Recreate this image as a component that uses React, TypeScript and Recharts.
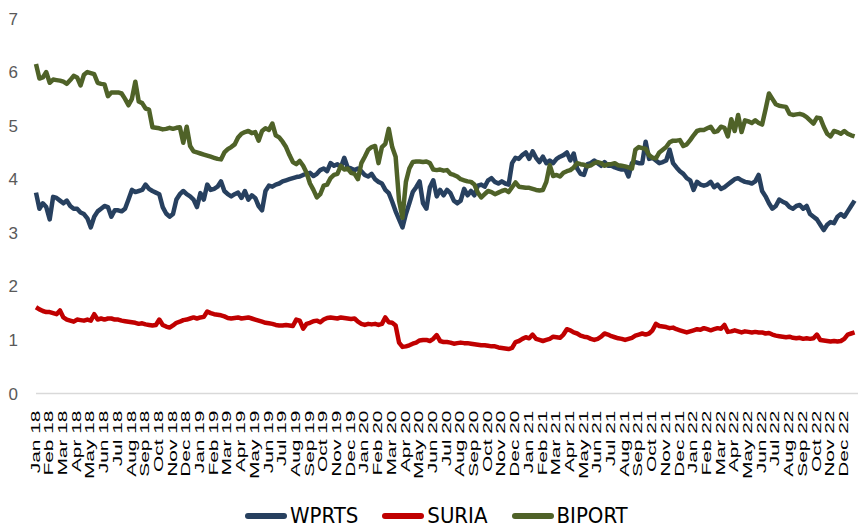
import { LineChart, Line, XAxis, YAxis, Legend } from 'recharts';

// monthly tick labels, Jan 18 .. Dec 22
const MONTH_LABELS = [
  'Jan 18', 'Feb 18', 'Mar 18', 'Apr 18', 'May 18', 'Jun 18', 'Jul 18', 'Aug 18', 'Sep 18', 'Oct 18', 'Nov 18', 'Dec 18',
  'Jan 19', 'Feb 19', 'Mar 19', 'Apr 19', 'May 19', 'Jun 19', 'Jul 19', 'Aug 19', 'Sep 19', 'Oct 19', 'Nov 19', 'Dec 19',
  'Jan 20', 'Feb 20', 'Mar 20', 'Apr 20', 'May 20', 'Jun 20', 'Jul 20', 'Aug 20', 'Sep 20', 'Oct 20', 'Nov 20', 'Dec 20',
  'Jan 21', 'Feb 21', 'Mar 21', 'Apr 21', 'May 21', 'Jun 21', 'Jul 21', 'Aug 21', 'Sep 21', 'Oct 21', 'Nov 21', 'Dec 21',
  'Jan 22', 'Feb 22', 'Mar 22', 'Apr 22', 'May 22', 'Jun 22', 'Jul 22', 'Aug 22', 'Sep 22', 'Oct 22', 'Nov 22', 'Dec 22',
];

const Y_TICKS = [0, 1, 2, 3, 4, 5, 6, 7];

// weekly closes, 4 per month
const WPRTS = [
  3.75, 3.45, 3.55, 3.48, 3.25, 3.67, 3.65, 3.6, 3.55, 3.6, 3.5, 3.45,
  3.45, 3.38, 3.35, 3.27, 3.1, 3.3, 3.4, 3.45, 3.5, 3.48, 3.3, 3.42,
  3.42, 3.4, 3.45, 3.62, 3.8, 3.76, 3.78, 3.8, 3.9, 3.82, 3.78, 3.75,
  3.72, 3.48, 3.36, 3.3, 3.35, 3.62, 3.72, 3.78, 3.72, 3.68, 3.62, 3.48,
  3.74, 3.62, 3.9, 3.8, 3.82, 3.86, 3.96, 3.78, 3.72, 3.68, 3.72, 3.75,
  3.65, 3.78, 3.62, 3.7, 3.65, 3.5, 3.42, 3.78, 3.88, 3.86, 3.9, 3.92,
  3.96, 3.98, 4.0, 4.02, 4.04, 4.05, 4.08, 4.1, 4.12, 4.06, 4.1, 4.17,
  4.2, 4.15, 4.3, 4.25, 4.28, 4.22, 4.4, 4.22, 4.2, 4.17, 4.2, 4.15,
  4.08, 4.05, 4.1, 4.0, 3.95, 3.92, 3.8, 3.74, 3.58, 3.4, 3.25, 3.1,
  3.35, 3.55, 3.76, 3.85, 3.96, 3.55, 3.45, 3.85, 3.98, 3.68, 3.8, 3.7,
  3.8, 3.74, 3.6, 3.55, 3.6, 3.82, 3.7, 3.78, 3.7, 3.88, 3.9, 3.86,
  3.98, 4.02, 3.95, 3.92, 3.96, 3.92, 3.9, 4.3, 4.4, 4.38, 4.45, 4.5,
  4.38, 4.52, 4.4, 4.32, 4.42, 4.3, 4.35, 4.3, 4.38, 4.42, 4.45, 4.5,
  4.35, 4.48, 4.2, 4.1, 4.08, 4.28, 4.3, 4.35, 4.3, 4.25, 4.32, 4.25,
  4.25, 4.22, 4.2, 4.18, 4.2, 4.05, 4.3, 4.32, 4.3, 4.3, 4.7, 4.38,
  4.4, 4.35, 4.3, 4.32, 4.35, 4.55, 4.3, 4.22, 4.15, 4.1, 4.02, 3.98,
  3.8, 3.95, 3.9, 3.88, 3.9, 3.95, 3.85, 3.9, 3.82, 3.85, 3.9, 3.95,
  4.0, 4.02, 3.98, 3.95, 3.94, 3.92, 3.96, 4.08, 3.78, 3.68, 3.55, 3.45,
  3.5, 3.62, 3.58, 3.55, 3.48, 3.45, 3.5, 3.52, 3.45, 3.5, 3.35, 3.3,
  3.25, 3.15, 3.05, 3.15, 3.2, 3.18, 3.3, 3.35, 3.3, 3.4, 3.5, 3.6,
];

const SURIA = [
  1.61, 1.57, 1.54, 1.52, 1.52, 1.5, 1.48, 1.55, 1.42, 1.38, 1.36, 1.34,
  1.38, 1.37, 1.36, 1.38, 1.36, 1.48, 1.38, 1.4, 1.38, 1.4, 1.4, 1.38,
  1.38, 1.36, 1.35, 1.34, 1.33, 1.32, 1.3, 1.31, 1.29, 1.28, 1.27, 1.28,
  1.38, 1.28, 1.25, 1.23, 1.27, 1.32, 1.34, 1.37, 1.38, 1.4, 1.42, 1.4,
  1.42, 1.43, 1.53, 1.5, 1.48, 1.47, 1.46, 1.44, 1.41, 1.4, 1.41, 1.42,
  1.4, 1.41, 1.42, 1.4, 1.38, 1.36, 1.34, 1.32, 1.31, 1.3, 1.28, 1.27,
  1.27, 1.28, 1.27, 1.26, 1.38, 1.36, 1.21, 1.3, 1.32, 1.35, 1.36, 1.33,
  1.38, 1.41, 1.42, 1.41, 1.4, 1.42, 1.41, 1.4, 1.39, 1.4, 1.34, 1.3,
  1.28, 1.3, 1.29, 1.3, 1.28, 1.3, 1.42, 1.33, 1.32, 1.27, 0.95, 0.87,
  0.88, 0.9, 0.93, 0.95, 0.99, 1.0, 1.0, 0.98, 1.02, 1.09, 0.98, 0.96,
  0.96, 0.95, 0.93, 0.94, 0.95, 0.94, 0.94, 0.93, 0.92, 0.91, 0.9, 0.9,
  0.89, 0.88, 0.88, 0.86, 0.85, 0.84, 0.83, 0.85, 0.96, 0.98, 1.02, 1.05,
  1.03, 1.1, 1.02, 1.0, 0.98, 1.0, 1.02, 1.06, 1.05, 1.04, 1.1, 1.2,
  1.18, 1.14, 1.12, 1.08, 1.06, 1.05, 1.02, 1.0, 1.02, 1.06, 1.12, 1.1,
  1.07, 1.05, 1.03, 1.02, 1.0, 1.02, 1.04, 1.08, 1.1, 1.12, 1.1, 1.12,
  1.18, 1.3, 1.26, 1.25, 1.24, 1.22, 1.23, 1.2, 1.18, 1.16, 1.14, 1.16,
  1.18, 1.2, 1.19, 1.22, 1.2, 1.18, 1.2, 1.22, 1.21, 1.28, 1.15, 1.16,
  1.18, 1.16, 1.14, 1.16, 1.15, 1.14, 1.15, 1.14, 1.14, 1.12, 1.13, 1.1,
  1.08, 1.07, 1.06, 1.05, 1.06, 1.04, 1.03, 1.04, 1.02, 1.03, 1.02, 1.03,
  1.1, 1.0, 0.99, 0.98, 0.97, 0.98, 0.97, 0.98, 1.02, 1.1, 1.12, 1.14,
];

const BIPORT = [
  6.15, 5.88, 5.9, 6.0, 5.8, 5.86, 5.85, 5.84, 5.82, 5.78, 5.85, 5.93,
  5.9, 5.75, 5.95, 6.0, 5.98, 5.96, 5.8, 5.78, 5.77, 5.55, 5.62, 5.62,
  5.62, 5.6, 5.5, 5.38, 5.5, 5.82, 5.45, 5.42, 5.32, 5.3, 4.97, 4.96,
  4.95, 4.93, 4.94, 4.96, 4.94, 4.96, 4.97, 4.68, 4.98, 4.62, 4.52, 4.5,
  4.48, 4.46, 4.44, 4.42, 4.4, 4.38, 4.37, 4.5, 4.56, 4.6, 4.65, 4.78,
  4.85, 4.88, 4.9, 4.86, 4.88, 4.72, 4.9, 4.95, 4.92, 5.04, 4.82, 4.78,
  4.7, 4.6, 4.45, 4.32, 4.28, 4.34, 4.25, 4.12, 3.92, 3.8, 3.66, 3.72,
  3.88, 3.9, 4.02, 4.08, 4.1, 4.25, 4.18, 4.2, 4.12, 4.1, 4.0, 4.3,
  4.42, 4.55, 4.6, 4.62, 4.3, 4.6, 4.66, 4.94, 4.6, 4.42, 3.6, 3.28,
  3.95, 4.2, 4.32, 4.33, 4.33, 4.32, 4.33, 4.3, 4.18, 4.17, 4.18, 4.16,
  4.17, 4.1, 4.08, 4.05, 4.0, 3.98, 3.96, 3.95, 3.9, 3.75, 3.66, 3.72,
  3.78, 3.76, 3.72, 3.75, 3.78, 3.8, 3.76, 3.85, 3.94, 3.86, 3.85, 3.84,
  3.84, 3.82, 3.8, 3.79, 3.8, 3.95, 4.26, 4.06, 4.08, 4.05, 4.12, 4.15,
  4.17, 4.22, 4.3, 4.28, 4.27, 4.24, 4.26, 4.3, 4.32, 4.3, 4.25, 4.28,
  4.28, 4.3, 4.26, 4.25, 4.24, 4.22, 4.2, 4.55, 4.6, 4.58, 4.57, 4.45,
  4.4, 4.39, 4.5, 4.55, 4.6, 4.69, 4.72, 4.72, 4.73, 4.62, 4.65, 4.73,
  4.82, 4.9, 4.92, 4.92, 4.95, 4.98, 4.88, 4.9, 4.98, 4.96, 4.8, 5.12,
  4.9, 5.2, 4.88, 5.1, 5.08, 5.05, 5.1, 5.05, 5.02, 5.3, 5.6, 5.5,
  5.4, 5.37, 5.36, 5.35, 5.22, 5.2, 5.21, 5.22, 5.2, 5.16, 5.1, 5.04,
  5.15, 5.14, 4.98, 4.85, 4.8, 4.9, 4.88, 4.85, 4.9, 4.85, 4.82, 4.8,
];

const SERIES = [
  { key: 'WPRTS', color: '#27405f' },
  { key: 'SURIA', color: '#c00000' },
  { key: 'BIPORT', color: '#4f6228' },
];

const data = WPRTS.map((v, i) => ({
  t: i / 4,
  WPRTS: v,
  SURIA: SURIA[i],
  BIPORT: BIPORT[i],
}));

const TICK_FONT = '"Liberation Sans", Arial, sans-serif';

function MonthTick({ x, y, payload }: any) {
  return (
    <text
      transform={`translate(${x - 1},${y + 17}) rotate(-90) scale(1.55,1)`}
      textAnchor="end"
      dominantBaseline="central"
      fontSize={13.5}
      fontFamily={TICK_FONT}
      fill="#000"
    >
      {MONTH_LABELS[payload.value]}
    </text>
  );
}

function LegendContent() {
  return (
    <div style={{ display: 'flex', alignItems: 'center', height: 36, paddingLeft: 245, boxSizing: 'border-box', paddingTop: 6 }}>
      {SERIES.map((s) => (
        <div key={s.key} style={{ display: 'flex', alignItems: 'center', marginRight: 24 }}>
          <div style={{ width: 42, height: 6, borderRadius: 3, background: s.color, marginRight: 3 }} />
          <span
            style={{
              fontFamily: '"Liberation Sans Narrow", "DejaVu Sans Condensed", sans-serif',
              fontSize: 22,
              color: '#000',
              lineHeight: '30px',
            }}
          >
            {s.key}
          </span>
        </div>
      ))}
    </div>
  );
}

export default function App() {
  return (
    <div style={{ position: 'absolute', left: 0, top: 0, background: '#fff' }}>
      <LineChart width={862} height={531} data={data} margin={{ top: 18.5, right: 4, bottom: 0, left: 0 }}>
        <XAxis
          dataKey="t"
          type="number"
          domain={[0, 60]}
          ticks={MONTH_LABELS.map((_, i) => i)}
          interval={0}
          tick={<MonthTick />}
          tickLine={false}
          tickSize={0}
          tickMargin={0}
          height={101.5}
          axisLine={{ stroke: '#d9d9d9', strokeWidth: 1.5 }}
        />
        <YAxis
          domain={[0, 7]}
          ticks={Y_TICKS}
          interval={0}
          width={36}
          axisLine={false}
          tickLine={false}
          tickSize={0}
          tickMargin={18}
          tick={{ fontSize: 17, fill: '#595959', fontFamily: TICK_FONT }}
        />
        <Legend verticalAlign="bottom" height={36} content={<LegendContent />} />
        {SERIES.map((s) => (
          <Line
            key={s.key}
            type="linear"
            dataKey={s.key}
            stroke={s.color}
            strokeWidth={4.5}
            strokeLinejoin="round"
            dot={false}
            isAnimationActive={false}
          />
        ))}
      </LineChart>
    </div>
  );
}
